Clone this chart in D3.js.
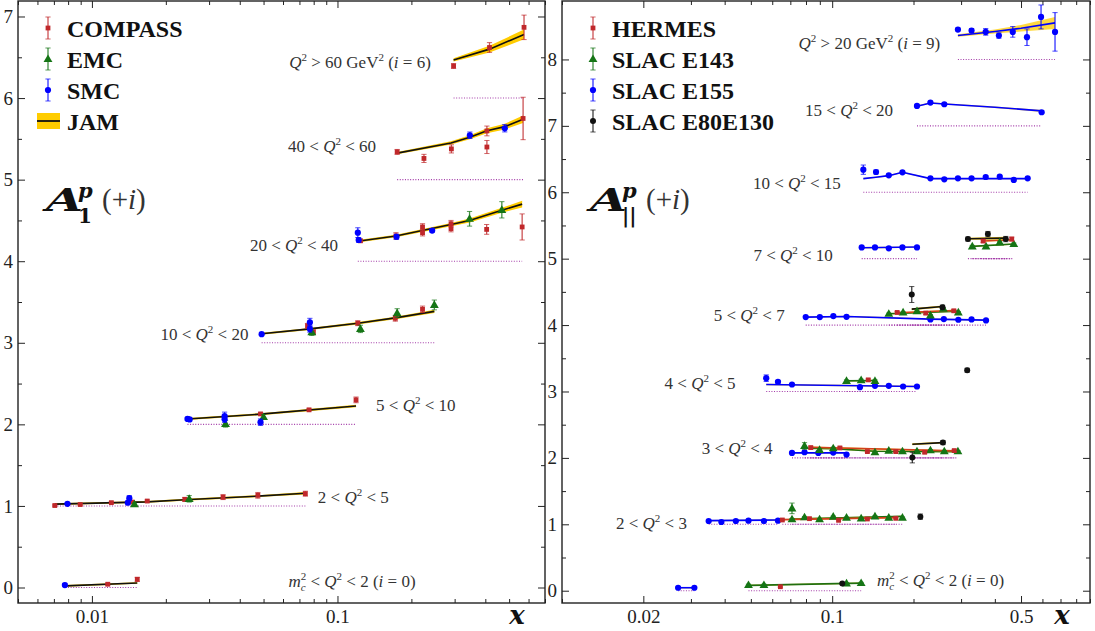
<!DOCTYPE html>
<html>
<head>
<meta charset="utf-8">
<script src="https://cdn.jsdelivr.net/npm/d3@7"></script>
<style>
  body { margin: 0; background: #fff; }
  text { white-space: pre; }
</style>
</head>
<body>
<div id="vis"></div>
<script>
// ---- data: rows are [bin i, x, A (without the +i shift), error] ----

// left panel, A1 proton
const compass = [
  [0, 0.0116, 0.04, 0.012], [0, 0.0153, 0.10, 0.025],
  [1, 0.00706, 0.005, 0.008], [1, 0.00896, 0.017, 0.01], [1, 0.0120, 0.04, 0.01],
  [1, 0.0146, 0.047, 0.012], [1, 0.0168, 0.06, 0.012], [1, 0.0239, 0.08, 0.025],
  [1, 0.0342, 0.108, 0.03], [1, 0.0474, 0.13, 0.035], [1, 0.0740, 0.15, 0.03],
  [2, 0.0486, 0.128, 0.015], [2, 0.0766, 0.178, 0.012], [2, 0.119, 0.30, 0.035],
  [3, 0.0755, 0.207, 0.03], [3, 0.0798, 0.13, 0.03], [3, 0.121, 0.24, 0.03],
  [3, 0.172, 0.30, 0.035], [3, 0.222, 0.41, 0.04],
  [4, 0.124, 0.25, 0.02], [4, 0.173, 0.31, 0.04], [4, 0.222, 0.42, 0.04], [4, 0.222, 0.35, 0.04],
  [4, 0.29, 0.46, 0.04], [4, 0.29, 0.40, 0.04], [4, 0.405, 0.39, 0.06], [4, 0.565, 0.42, 0.16],
  [5, 0.175, 0.34, 0.03], [5, 0.225, 0.26, 0.05], [5, 0.291, 0.377, 0.05],
  [5, 0.406, 0.597, 0.06], [5, 0.406, 0.40, 0.08], [5, 0.57, 0.75, 0.26],
  [6, 0.297, 0.393, 0.03], [6, 0.416, 0.62, 0.06], [6, 0.575, 0.867, 0.15]
];
const emc = [
  [1, 0.0149, 0.02, 0.015], [1, 0.0249, 0.087, 0.04],
  [2, 0.0350, 0.006, 0.04], [2, 0.050, 0.09, 0.03],
  [3, 0.0786, 0.13, 0.04], [3, 0.124, 0.17, 0.045], [3, 0.175, 0.363, 0.055], [3, 0.248, 0.464, 0.06],
  [4, 0.345, 0.52, 0.09], [4, 0.467, 0.63, 0.1]
];
const smc = [
  [0, 0.00776, 0.03, 0.02],
  [1, 0.00795, 0.026, 0.012], [1, 0.0140, 0.04, 0.015], [1, 0.0142, 0.095, 0.03],
  [2, 0.0245, 0.067, 0.02], [2, 0.0250, 0.06, 0.02], [2, 0.0347, 0.10, 0.05],
  [2, 0.0347, 0.064, 0.04], [2, 0.0486, 0.027, 0.04],
  [3, 0.0491, 0.105, 0.01], [3, 0.0772, 0.25, 0.05], [3, 0.0772, 0.17, 0.04],
  [4, 0.121, 0.35, 0.06], [4, 0.122, 0.26, 0.03], [4, 0.174, 0.30, 0.03], [4, 0.243, 0.375, 0.02],
  [5, 0.346, 0.544, 0.04], [5, 0.48, 0.63, 0.045]
];

// right panel, A_parallel proton
const hermes = [
  [0, 0.0643, 0.06, 0.01],
  [1, 0.0654, 0.065, 0.01], [1, 0.0824, 0.085, 0.01], [1, 0.1056, 0.06, 0.01],
  [1, 0.135, 0.08, 0.01], [1, 0.172, 0.09, 0.01],
  [2, 0.0833, 0.155, 0.02], [2, 0.1068, 0.15, 0.015], [2, 0.135, 0.095, 0.015],
  [2, 0.172, 0.095, 0.015], [2, 0.220, 0.085, 0.015], [2, 0.283, 0.11, 0.015],
  [3, 0.136, 0.175, 0.015],
  [4, 0.174, 0.19, 0.015], [4, 0.222, 0.18, 0.02], [4, 0.282, 0.215, 0.02],
  [5, 0.362, 0.265, 0.02], [5, 0.462, 0.295, 0.03]
];
const e143 = [
  [0, 0.049, 0.086, 0.012], [0, 0.0559, 0.086, 0.012], [0, 0.113, 0.11, 0.01], [0, 0.128, 0.116, 0.01],
  [1, 0.071, 0.24, 0.08], [1, 0.071, 0.076, 0.012], [1, 0.079, 0.106, 0.012], [1, 0.0898, 0.076, 0.01],
  [1, 0.1009, 0.115, 0.01], [1, 0.113, 0.10, 0.01], [1, 0.128, 0.09, 0.01], [1, 0.144, 0.12, 0.01],
  [1, 0.162, 0.10, 0.01], [1, 0.182, 0.10, 0.01],
  [2, 0.079, 0.18, 0.05], [2, 0.0898, 0.12, 0.015], [2, 0.1009, 0.145, 0.015], [2, 0.144, 0.085, 0.01],
  [2, 0.162, 0.11, 0.01], [2, 0.182, 0.10, 0.01], [2, 0.206, 0.10, 0.01], [2, 0.231, 0.115, 0.01],
  [2, 0.26, 0.10, 0.01], [2, 0.292, 0.10, 0.01],
  [3, 0.113, 0.16, 0.015], [3, 0.128, 0.17, 0.015], [3, 0.144, 0.16, 0.015],
  [4, 0.162, 0.17, 0.01], [4, 0.183, 0.19, 0.01], [4, 0.206, 0.21, 0.015], [4, 0.231, 0.145, 0.015],
  [4, 0.258, 0.245, 0.015], [4, 0.293, 0.19, 0.015],
  [5, 0.330, 0.185, 0.015], [5, 0.371, 0.185, 0.015], [5, 0.417, 0.245, 0.015], [5, 0.470, 0.22, 0.015]
];
const e155 = [
  [0, 0.0269, 0.045, 0.01], [0, 0.0309, 0.045, 0.01],
  [1, 0.0349, 0.05, 0.01], [1, 0.0389, 0.035, 0.01], [1, 0.0440, 0.05, 0.01],
  [1, 0.0490, 0.055, 0.01], [1, 0.0559, 0.05, 0.01], [1, 0.063, 0.055, 0.01],
  [2, 0.071, 0.075, 0.01], [2, 0.079, 0.085, 0.01], [2, 0.0889, 0.075, 0.01],
  [2, 0.1009, 0.08, 0.01], [2, 0.113, 0.05, 0.01],
  [3, 0.057, 0.20, 0.05], [3, 0.063, 0.145, 0.02], [3, 0.071, 0.105, 0.01], [3, 0.1267, 0.065, 0.01],
  [3, 0.144, 0.085, 0.01], [3, 0.162, 0.085, 0.01], [3, 0.183, 0.075, 0.01], [3, 0.206, 0.075, 0.01],
  [4, 0.0798, 0.12, 0.01], [4, 0.090, 0.12, 0.01], [4, 0.101, 0.135, 0.01], [4, 0.113, 0.125, 0.01],
  [4, 0.231, 0.085, 0.01], [4, 0.259, 0.09, 0.01], [4, 0.293, 0.08, 0.01], [4, 0.328, 0.085, 0.01],
  [4, 0.371, 0.07, 0.01],
  [5, 0.1286, 0.17, 0.01], [5, 0.144, 0.17, 0.01], [5, 0.162, 0.155, 0.01], [5, 0.182, 0.17, 0.01],
  [5, 0.206, 0.17, 0.01],
  [6, 0.1304, 0.34, 0.07], [6, 0.1453, 0.305, 0.03], [6, 0.162, 0.255, 0.015], [6, 0.182, 0.30, 0.015],
  [6, 0.231, 0.21, 0.01], [6, 0.260, 0.195, 0.01], [6, 0.292, 0.21, 0.01], [6, 0.328, 0.21, 0.01],
  [6, 0.370, 0.23, 0.015], [6, 0.417, 0.235, 0.015], [6, 0.470, 0.185, 0.015], [6, 0.529, 0.21, 0.015],
  [7, 0.206, 0.30, 0.015], [7, 0.231, 0.35, 0.015], [7, 0.260, 0.325, 0.015], [7, 0.596, 0.205, 0.02],
  [8, 0.292, 0.45, 0.02], [8, 0.328, 0.435, 0.03], [8, 0.370, 0.415, 0.05], [8, 0.414, 0.36, 0.04],
  [8, 0.466, 0.415, 0.08], [8, 0.526, 0.335, 0.125], [8, 0.593, 0.64, 0.18], [8, 0.668, 0.415, 0.29]
];
const e80e130 = [
  [0, 0.109, 0.11, 0.015],
  [1, 0.212, 0.115, 0.04],
  [2, 0.198, 0.005, 0.08], [2, 0.257, 0.23, 0.03],
  [3, 0.316, 0.32, 0.03],
  [4, 0.197, 0.46, 0.12], [4, 0.256, 0.27, 0.03],
  [5, 0.318, 0.295, 0.03], [5, 0.377, 0.37, 0.04], [5, 0.439, 0.295, 0.04]
];

// JAM curves: [bin, [[x, A, band half width], ...]]
const jamA1 = [
  [0, [[0.0078, 0.02, 0.01], [0.0153, 0.055, 0.01]]],
  [1, [[0.00706, 0.022, 0.01], [0.0168, 0.05, 0.01], [0.0239, 0.075, 0.012], [0.0474, 0.12, 0.012], [0.074, 0.155, 0.015]]],
  [2, [[0.0245, 0.065, 0.012], [0.0486, 0.125, 0.012], [0.119, 0.225, 0.015]]],
  [3, [[0.0491, 0.11, 0.012], [0.0772, 0.17, 0.012], [0.121, 0.24, 0.015], [0.172, 0.305, 0.015], [0.248, 0.385, 0.02]]],
  [4, [[0.121, 0.245, 0.015], [0.173, 0.31, 0.015], [0.29, 0.45, 0.02], [0.345, 0.50, 0.025], [0.467, 0.625, 0.03], [0.565, 0.70, 0.04]]],
  [5, [[0.175, 0.325, 0.015], [0.29, 0.45, 0.02], [0.346, 0.52, 0.025], [0.406, 0.60, 0.03], [0.48, 0.65, 0.035], [0.57, 0.74, 0.045]]],
  [6, [[0.297, 0.467, 0.02], [0.416, 0.60, 0.04], [0.575, 0.78, 0.06]]]
];
const jamHermes = [
  [1, [[0.0654, 0.07, 0.01], [0.172, 0.10, 0.01]]],
  [2, [[0.0833, 0.16, 0.01], [0.283, 0.105, 0.01]]],
  [4, [[0.174, 0.185, 0.01], [0.282, 0.22, 0.01]]],
  [5, [[0.362, 0.265, 0.01], [0.462, 0.285, 0.01]]]
];
const jamE143 = [
  [0, [[0.049, 0.08, 0.01], [0.128, 0.115, 0.01]]],
  [1, [[0.071, 0.08, 0.01], [0.182, 0.12, 0.01]]],
  [2, [[0.079, 0.145, 0.01], [0.1009, 0.14, 0.01], [0.144, 0.10, 0.01], [0.292, 0.095, 0.01]]],
  [3, [[0.113, 0.16, 0.01], [0.144, 0.165, 0.01]]],
  [4, [[0.162, 0.17, 0.01], [0.293, 0.21, 0.01]]],
  [5, [[0.330, 0.185, 0.01], [0.470, 0.22, 0.01]]]
];
const jamE155 = [
  [0, [[0.0269, 0.045, 0.01], [0.0309, 0.045, 0.01]]],
  [1, [[0.0349, 0.055, 0.01], [0.063, 0.065, 0.01]]],
  [2, [[0.071, 0.075, 0.01], [0.113, 0.075, 0.01]]],
  [3, [[0.057, 0.105, 0.01], [0.206, 0.075, 0.01]]],
  [4, [[0.0798, 0.12, 0.01], [0.113, 0.13, 0.01], [0.231, 0.09, 0.01], [0.371, 0.075, 0.01]]],
  [5, [[0.1286, 0.165, 0.01], [0.206, 0.175, 0.01]]],
  [6, [[0.1304, 0.205, 0.01], [0.145, 0.225, 0.01], [0.162, 0.25, 0.01], [0.182, 0.30, 0.01], [0.231, 0.205, 0.01], [0.529, 0.205, 0.01]]],
  [7, [[0.206, 0.295, 0.01], [0.231, 0.345, 0.01], [0.260, 0.33, 0.01], [0.4, 0.28, 0.012], [0.596, 0.225, 0.015]]],
  [8, [[0.292, 0.36, 0.02], [0.4, 0.42, 0.03], [0.5, 0.47, 0.05], [0.668, 0.55, 0.09]]]
];
const jamE80 = [
  [2, [[0.198, 0.205, 0.015], [0.257, 0.23, 0.015]]],
  [4, [[0.197, 0.24, 0.015], [0.256, 0.28, 0.015]]],
  [5, [[0.318, 0.30, 0.015], [0.439, 0.31, 0.02]]]
];

// bin labels and tick labels
const leftBins = ['m_c^2 < Q^2 < 2 (i = 0)', '2 < Q^2 < 5', '5 < Q^2 < 10', '10 < Q^2 < 20',
  '20 < Q^2 < 40', '40 < Q^2 < 60', 'Q^2 > 60 GeV^2 (i = 6)'];
const rightBins = ['m_c^2 < Q^2 < 2 (i = 0)', '2 < Q^2 < 3', '3 < Q^2 < 4', '4 < Q^2 < 5', '5 < Q^2 < 7',
  '7 < Q^2 < 10', '10 < Q^2 < 15', '15 < Q^2 < 20', 'Q^2 > 20 GeV^2 (i = 9)'];
const leftXTicks = [0.01, 0.1];
const rightXTicks = [0.02, 0.1, 0.5];
const leftYTicks = [0, 1, 2, 3, 4, 5, 6, 7];
const rightYTicks = [0, 1, 2, 3, 4, 5, 6, 7, 8];

// ---- layout ----
const red = '#c0282b', green = '#157515', blue = '#0000ff', gold = '#ffcc00';
const serif = '"Liberation Serif", "Times New Roman", serif';

// label anchors, [x, y above bin, anchor]
const leftLabelPos = [[0.0632, 0.08, 'start'], [0.0832, 0.11, 'start'], [0.1436, 0.24, 'start'],
  [0.0434, 0.11, 'end'], [0.1004, 0.20, 'end'], [0.1436, 0.41, 'end'], [0.24, 0.44, 'end']];
const rightLabelPos = [[0.1466, 0.167, 'start'], [0.029, 0.02, 'end'], [0.0602, 0.15, 'end'],
  [0.0439, 0.13, 'end'], [0.0667, 0.155, 'end'], [0.1006, 0.06, 'end'], [0.1077, 0.14, 'end'],
  [0.168, 0.24, 'end'], [0.251, 0.24, 'end']];

const svg = d3.select('#vis').append('svg')
  .attr('width', 1095).attr('height', 631)
  .style('font-family', serif);

function makePanel(left, right, xd, yd) {
  const x = d3.scaleLog().domain(xd).range([left, right]);
  const y = d3.scaleLinear().domain(yd).range([603, 1]);
  return { x: x, y: y, g: svg.append('g') };
}

function drawAxes(p, xLabels, yLabels, yMax) {
  const [l, r] = p.x.range(), [b, t] = p.y.range();
  const minorX = p.x.ticks().filter(v => xLabels.indexOf(v) < 0);
  const minorY = d3.range(0.5, yMax + 0.01, 1);
  const strip = g => { g.select('.domain').remove(); g.selectAll('line').attr('stroke', '#222'); };

  p.g.append('g').attr('transform', 'translate(0,' + b + ')')
    .call(d3.axisBottom(p.x).tickValues(minorX).tickSize(-4).tickFormat('')).call(strip);
  p.g.append('g').attr('transform', 'translate(0,' + b + ')')
    .call(d3.axisBottom(p.x).tickValues(xLabels).tickSize(-7).tickPadding(7).tickFormat(d3.format('')))
    .call(strip)
    .selectAll('text').attr('font-size', 19).attr('font-family', serif).attr('fill', '#222');
  p.g.append('g').attr('transform', 'translate(0,' + t + ')')
    .call(d3.axisTop(p.x).tickValues(minorX).tickSize(-4).tickFormat('')).call(strip);
  p.g.append('g').attr('transform', 'translate(0,' + t + ')')
    .call(d3.axisTop(p.x).tickValues(xLabels).tickSize(-7).tickFormat('')).call(strip);

  p.g.append('g').attr('transform', 'translate(' + l + ',0)')
    .call(d3.axisLeft(p.y).tickValues(minorY).tickSize(-4).tickFormat('')).call(strip);
  p.g.append('g').attr('transform', 'translate(' + l + ',0)')
    .call(d3.axisLeft(p.y).tickValues(yLabels).tickSize(-7).tickPadding(5).tickFormat(d3.format('d')))
    .call(strip)
    .selectAll('text').attr('font-size', 19).attr('font-family', serif).attr('fill', '#222');
  p.g.append('g').attr('transform', 'translate(' + r + ',0)')
    .call(d3.axisRight(p.y).tickValues(minorY).tickSize(-4).tickFormat('')).call(strip);
  p.g.append('g').attr('transform', 'translate(' + r + ',0)')
    .call(d3.axisRight(p.y).tickValues(yLabels).tickSize(-7).tickFormat('')).call(strip);

  p.g.append('rect').attr('x', l).attr('y', t).attr('width', r - l).attr('height', b - t)
    .attr('fill', 'none').attr('stroke', '#222').attr('stroke-width', 1.4);

  p.g.append('text').attr('x', r - 28).attr('y', b + 21).attr('text-anchor', 'middle')
    .attr('font-size', 26).attr('font-weight', 'bold').attr('font-style', 'italic')
    .attr('font-family', '"DejaVu Serif", serif').attr('fill', '#111').text('x');
}

// tiny math renderer: letters italic, ^x superscript, _x subscript
function mathText(g, str, x, y, anchor) {
  const t = g.append('text').attr('x', x).attr('y', y).attr('dy', '0.35em')
    .attr('text-anchor', anchor).attr('font-size', 17).attr('fill', '#333');
  const tokens = str.match(/\^\w|_\w|GeV|[A-Za-z]|[^A-Za-z^_]+/g);
  let off = 0, prevSub = false;
  tokens.forEach(tok => {
    let shift = 0, size = null, italic = false, txt = tok, dx = 0;
    if (tok[0] === '^') { txt = tok[1]; shift = -7; size = 11; italic = /[A-Za-z]/.test(txt); if (prevSub) dx = -5; }
    else if (tok[0] === '_') { txt = tok[1]; shift = 4; size = 11; italic = true; }
    else if (tok !== 'GeV' && /[A-Za-z]/.test(tok)) italic = true;
    const s = t.append('tspan').text(txt);
    if (shift - off) s.attr('dy', shift - off);
    if (dx) s.attr('dx', dx);
    if (size) s.attr('font-size', size);
    if (italic) s.attr('font-style', 'italic');
    off = shift;
    prevSub = tok[0] === '_';
  });
}

function drawJam(p, curves, lineColor, bandOpacity) {
  curves.forEach(([bin, nodes]) => {
    const area = d3.area().x(d => p.x(d[0]))
      .y0(d => p.y(bin + d[1] - d[2])).y1(d => p.y(bin + d[1] + d[2]));
    p.g.append('path').datum(nodes).attr('d', area).attr('fill', gold).attr('opacity', bandOpacity);
  });
  curves.forEach(([bin, nodes]) => {
    // dotted zero line of the bin over the curve's x range
    p.g.append('line')
      .attr('x1', p.x(nodes[0][0])).attr('x2', p.x(nodes[nodes.length - 1][0]))
      .attr('y1', p.y(bin)).attr('y2', p.y(bin))
      .attr('stroke', '#a33aa8').attr('stroke-width', 1.1).attr('stroke-dasharray', '1,1.6');
  });
  curves.forEach(([bin, nodes]) => {
    const line = d3.line().x(d => p.x(d[0])).y(d => p.y(bin + d[1]));
    p.g.append('path').datum(nodes).attr('d', line).attr('fill', 'none')
      .attr('stroke', lineColor).attr('stroke-width', 1.6);
  });
}

function marker(g, shape, color, cx, cy) {
  if (shape === 'sq') {
    g.append('rect').attr('x', cx - 2.4).attr('y', cy - 2.4).attr('width', 4.8).attr('height', 4.8).attr('fill', color);
  } else if (shape === 'tri') {
    g.append('path').attr('d', d3.symbol(d3.symbolTriangle, 34)())
      .attr('transform', 'translate(' + cx + ',' + (cy + 0.5) + ')').attr('fill', color);
  } else {
    g.append('circle').attr('cx', cx).attr('cy', cy).attr('r', shape === 'bdot' ? 3 : 3.1).attr('fill', color);
  }
}

function errBar(g, color, cx, ylo, yhi) {
  g.append('line').attr('x1', cx).attr('x2', cx).attr('y1', ylo).attr('y2', yhi)
    .attr('stroke', color).attr('stroke-width', 1.3).attr('opacity', 0.8);
  [ylo, yhi].forEach(v => g.append('line').attr('x1', cx - 2.6).attr('x2', cx + 2.6)
    .attr('y1', v).attr('y2', v).attr('stroke', color).attr('stroke-width', 1).attr('opacity', 0.7));
}

function drawPoints(p, rows, shape, color) {
  const g = p.g.append('g');
  rows.forEach(([bin, xv, v, e]) => {
    const cx = p.x(xv);
    errBar(g, color, cx, p.y(bin + v - e), p.y(bin + v + e));
    marker(g, shape, color, cx, p.y(bin + v));
  });
}

function drawLegend(g, x0, items) {
  items.forEach((it, k) => {
    const cy = 28 + k * 31;
    if (it.shape === 'jam') {
      g.append('rect').attr('x', x0 - 11).attr('y', cy - 8).attr('width', 23).attr('height', 16).attr('fill', gold);
      g.append('line').attr('x1', x0 - 11).attr('x2', x0 + 12).attr('y1', cy).attr('y2', cy)
        .attr('stroke', '#111').attr('stroke-width', 1.8);
    } else {
      errBar(g, it.color, x0, cy - 11, cy + 11);
      marker(g, it.shape, it.color, x0, cy);
    }
    g.append('text').attr('x', x0 + 19).attr('y', cy).attr('dy', '0.36em')
      .attr('font-size', 24).attr('font-weight', 'bold').attr('fill', '#111').text(it.name);
  });
}

function bigLabel(g, x, sub) {
  const f = '"DejaVu Serif", serif';
  g.append('text').attr('x', x).attr('y', 211).attr('font-family', f).attr('font-size', 31)
    .attr('font-weight', 'bold').attr('font-style', 'italic').attr('fill', '#111')
    .attr('textLength', 37).attr('lengthAdjust', 'spacingAndGlyphs').text('A');
  g.append('text').attr('x', x + 32).attr('y', 198).attr('font-family', f).attr('font-size', 21)
    .attr('font-weight', 'bold').attr('font-style', 'italic').attr('fill', '#111').text('p');
  g.append('text').attr('x', x + 32).attr('y', 223).attr('font-family', f).attr('font-size', 20)
    .attr('font-weight', 'bold').attr('fill', '#111').text(sub);
  const t = g.append('text').attr('x', x + 56).attr('y', 209).attr('font-size', 29).attr('fill', '#333');
  t.append('tspan').text('(+');
  t.append('tspan').attr('font-style', 'italic').text('i');
  t.append('tspan').text(')');
}

// ---- left panel ----
const pl = makePanel(18, 545, [0.005, 0.7], [-0.19, 7.19]);
drawAxes(pl, leftXTicks, leftYTicks, 7);
drawJam(pl, jamA1, '#111', 1);
drawPoints(pl, compass, 'sq', red);
drawPoints(pl, emc, 'tri', green);
drawPoints(pl, smc, 'dot', blue);
leftBins.forEach((s, i) => {
  const [lx, ly, a] = leftLabelPos[i];
  mathText(pl.g, s, pl.x(lx), pl.y(i + ly), a);
});
drawLegend(pl.g, 48, [
  { name: 'COMPASS', shape: 'sq', color: red },
  { name: 'EMC', shape: 'tri', color: green },
  { name: 'SMC', shape: 'dot', color: blue },
  { name: 'JAM', shape: 'jam' }
]);
bigLabel(pl.g, 46, '1');

// ---- right panel ----
const pr = makePanel(562, 1090, [0.01, 0.9], [-0.185, 8.88]);
drawAxes(pr, rightXTicks, rightYTicks, 8);
drawJam(pr, jamE155, blue, 0.75);
drawJam(pr, jamE143, '#1f6e10', 0.75);
drawJam(pr, jamHermes, '#d2401c', 0.75);
drawJam(pr, jamE80, '#111', 0.9);
drawPoints(pr, e155, 'dot', blue);
drawPoints(pr, e143, 'tri', green);
drawPoints(pr, hermes, 'sq', red);
drawPoints(pr, e80e130, 'bdot', '#111');
rightBins.forEach((s, i) => {
  const [lx, ly, a] = rightLabelPos[i];
  mathText(pr.g, s, pr.x(lx), pr.y(i + ly), a);
});
drawLegend(pr.g, 593, [
  { name: 'HERMES', shape: 'sq', color: red },
  { name: 'SLAC E143', shape: 'tri', color: green },
  { name: 'SLAC E155', shape: 'dot', color: blue },
  { name: 'SLAC E80E130', shape: 'bdot', color: '#111' }
]);
bigLabel(pr.g, 590, '||');
</script>
</body>
</html>
